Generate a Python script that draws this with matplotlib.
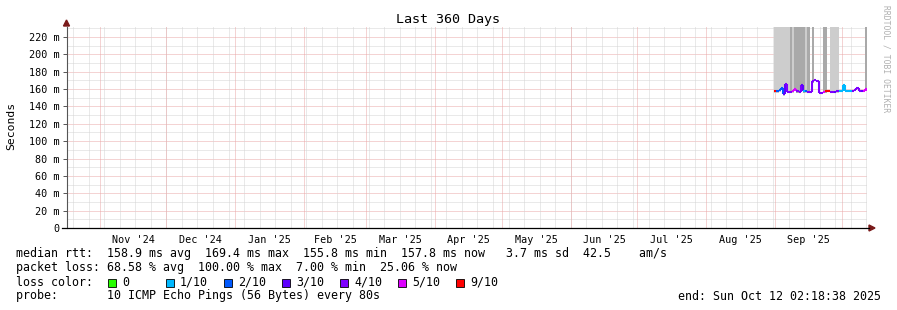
import datetime as dt
import matplotlib
matplotlib.use('Agg')
import matplotlib.pyplot as plt
import matplotlib.dates as mdates
from matplotlib.patches import Polygon, Rectangle

# zeitraum
end = dt.datetime(2025, 10, 12, 2, 18, 38)
start = end - dt.timedelta(days=360)

# messwerte (ein wert pro tag ab 31.08.2025)
data_start = dt.datetime(2025, 8, 31, 12)
median_ms = [158, 158, 159, 161, 154, 166, 157, 157, 158, 160,
             158, 157, 165, 158, 158, 157, 157, 169, 170, 169,
             156, 155, 157, 158, 158, 157, 157, 157, 158, 158,
             158, 165, 158, 158, 158, 158, 159, 161, 158, 158,
             158, 160, 158]
loss_idx = [6, 2, 2, 2, 3, 4, 4, 4, 5, 5,
            4, 4, 3, 1, 2, 4, 4, 4, 4, 4,
            4, 4, 5, 6, 6, 4, 4, 3, 4, 1,
            1, 1, 1, 1, 1, 4, 4, 4, 4, 3,
            5, 5, 5]
# 0 = kein rauch, 1 = hell, 2 = dunkel
smoke_level = [1, 1, 1, 1, 1, 1, 1, 2, 1, 2,
               2, 2, 2, 2, 1, 2, 0, 2, 0, 0,
               0, 0, 2, 2, 0, 1, 1, 1, 1, 0,
               0, 0, 0, 0, 0, 0, 0, 0, 0, 0,
               0, 2, 0]
smoke_top_ms = 240

loss_labels = ['0', '1/10', '2/10', '3/10', '4/10', '5/10', '9/10']
loss_colors = ['#26ff00', '#00b8ff', '#0059ff', '#5e00ff', '#7e00ff', '#dd00ff', '#ff0000']
smoke_colors = [None, '#cdcdcd', '#a9a9a9']

y_ticks = [0, 20, 40, 60, 80, 100, 120, 140, 160, 180, 200, 220]

W, H = 897, 310
fig = plt.figure(figsize=(W / 100, H / 100), dpi=100)
ax = fig.add_axes([66.5 / W, 82 / H, 800 / W, 201 / H])

mono = 'DejaVu Sans Mono'
s0 = mdates.date2num(start)
e0 = mdates.date2num(end)

# gitter
for v in range(10, 232, 10):
    c = '#eaa8a8' if v % 20 == 0 else '#d4d4d4'
    ax.axhline(v, color=c, lw=0.72, ls=(0, (1, 1)), zorder=1)

d = dt.datetime(2024, 10, 20)
while d < end:
    ax.axvline(mdates.date2num(d), color='#d4d4d4', lw=0.72, ls=(0, (1, 1)), zorder=1)
    d += dt.timedelta(days=7)

month_starts = []
mid_months = []
m = dt.datetime(2024, 11, 1)
while m < end:
    month_starts.append(m)
    nm = dt.datetime(m.year + (m.month == 12), m.month % 12 + 1, 1)
    mid = m + (nm - m) / 2
    if mid < end:
        mid_months.append(mid)
    m = nm
for m in month_starts:
    ax.axvline(mdates.date2num(m), color='#eaa8a8', lw=0.72, ls=(0, (1, 1)), zorder=1)

# rauch
days = [mdates.date2num(data_start + dt.timedelta(days=i)) for i in range(len(median_ms))]
for i, lvl in enumerate(smoke_level):
    if lvl == 0:
        continue
    ax.fill_between([days[i], days[i] + 1], median_ms[i] - 2, smoke_top_ms,
                    color=smoke_colors[lvl], lw=0, zorder=2)

# median, nach verlust eingefaerbt
for i in range(len(median_ms)):
    c = loss_colors[loss_idx[i]]
    x1 = min(days[i] + 1, e0)
    ax.plot([days[i], x1], [median_ms[i], median_ms[i]], color=c, lw=1.5,
            solid_capstyle='butt', zorder=3)
    if i + 1 < len(median_ms):
        ax.plot([x1, x1], [median_ms[i], median_ms[i + 1]], color=c, lw=1.5,
                solid_capstyle='butt', zorder=3)

# achsen
for s in ['top', 'right']:
    ax.spines[s].set_visible(False)
ax.spines['left'].set_color('#555555')
ax.spines['left'].set_linewidth(0.8)
ax.spines['bottom'].set_visible(False)

ax.set_yticks(y_ticks)
ax.set_yticklabels(['0'] + ['%d m' % v for v in y_ticks[1:]])
ax.set_xticks([mdates.date2num(m) for m in mid_months])
ax.set_xticklabels([m.strftime("%b '%y") for m in mid_months])
ax.tick_params(axis='y', length=3, width=0.7, pad=2, labelsize=7.3, color='#555555')
ax.tick_params(axis='x', length=0, pad=5, labelsize=7.3)
for lab in ax.get_xticklabels() + ax.get_yticklabels():
    lab.set_family(mono)
ax.set_xlim(s0, e0)
ax.set_ylim(0, 231.5)
ax.set_facecolor('white')

fig.text(11 / W, 1 - 126 / H, 'Seconds', family=mono, fontsize=8.2,
         rotation=90, ha='center', va='center')

# pfeile
def px(x, y):
    return (x / W, 1 - y / H)

fig.patches.append(Polygon([px(63.5, 26), px(69.5, 26), px(66.5, 20)], closed=True,
                           transform=fig.transFigure, color='#7a1a1a'))
fig.patches.append(Polygon([px(869, 225), px(869, 231), px(875, 228)], closed=True,
                           transform=fig.transFigure, color='#7a1a1a'))
fig.add_artist(plt.Line2D([62 / W, 869 / W], [1 - 228 / H] * 2, color='black', lw=0.9))

fig.text(448 / W, 1 - 19 / H, 'Last 360 Days', family=mono, fontsize=9.6,
         ha='center', va='center')
fig.text(886 / W, 1 - 5 / H, 'RRDTOOL / TOBI OETIKER', family=mono, fontsize=5.8,
         color='#b0b0b0', rotation=270, ha='center', va='top')

# legende
rows = [
    'median rtt:  158.9 ms avg  169.4 ms max  155.8 ms min  157.8 ms now   3.7 ms sd  42.5    am/s',
    'packet loss: 68.58 % avg  100.00 % max  7.00 % min  25.06 % now',
    'loss color:',
    'probe:       10 ICMP Echo Pings (56 Bytes) every 80s',
]
for k, t in enumerate(rows):
    fig.text(16 / W, 1 - (254 + 14 * k) / H, t, family=mono, fontsize=8.4,
             ha='left', va='center')

for i, (lab, col) in enumerate(zip(loss_labels, loss_colors)):
    x = 108 + 58 * i
    fig.patches.append(Rectangle((x / W, 1 - 286.5 / H), 8 / W, 8 / H,
                                 transform=fig.transFigure, facecolor=col,
                                 edgecolor='black', lw=0.6))
    fig.text((x + 14) / W, 1 - 282 / H, lab, family=mono, fontsize=8.4,
             ha='left', va='center')

fig.text(881 / W, 1 - 296 / H, 'end: Sun Oct 12 02:18:38 2025', family=mono,
         fontsize=8.4, ha='right', va='center')

fig.savefig('out.png', dpi=100, facecolor='white')
